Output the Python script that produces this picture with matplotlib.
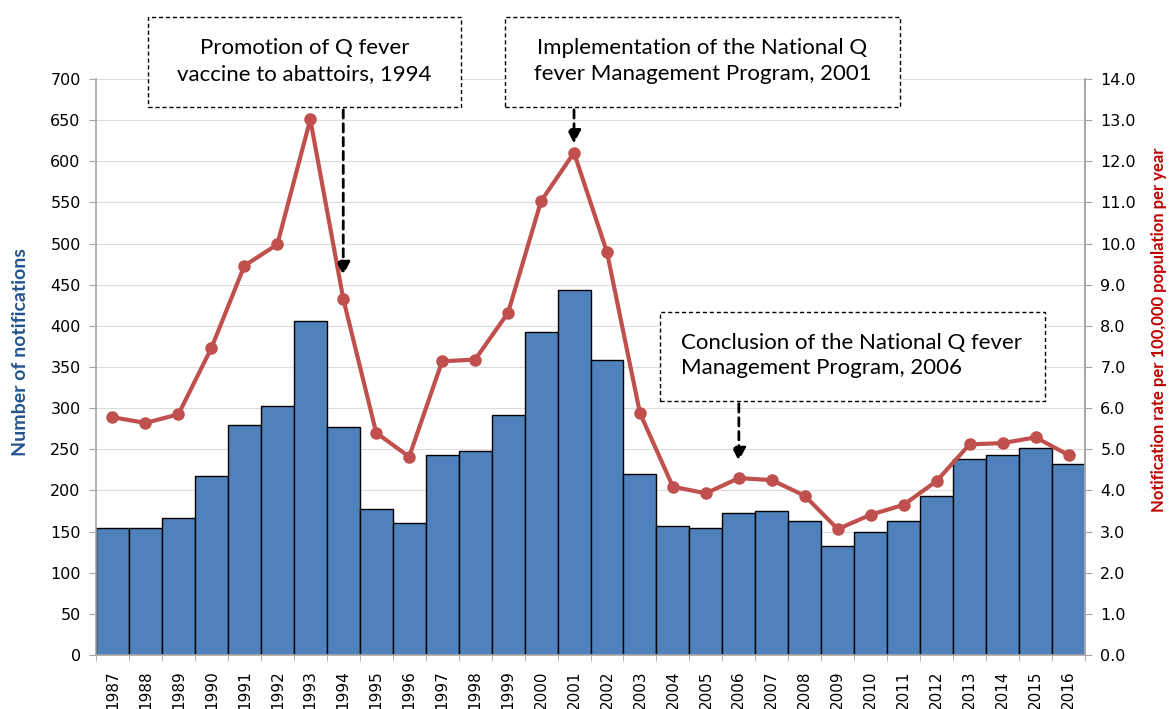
import matplotlib
matplotlib.use("Agg")
from matplotlib import pyplot as plt
from matplotlib.patches import Rectangle
import numpy as np

## Data ##
years = list(range(1987, 2017))
notifications = [154, 154, 166, 217, 280, 303, 406, 277, 177, 161,
                 243, 248, 292, 393, 443, 358, 220, 157, 154, 172,
                 175, 163, 132, 150, 163, 193, 238, 243, 252, 232]
rates = [5.78, 5.64, 5.85, 7.46, 9.46, 9.98, 13.02, 8.66, 5.40, 4.82,
         7.14, 7.18, 8.32, 11.03, 12.21, 9.79, 5.88, 4.09, 3.93, 4.30,
         4.25, 3.87, 3.06, 3.41, 3.65, 4.23, 5.12, 5.15, 5.29, 4.86]

notes = ["Promotion of Q fever\nvaccine to abattoirs, 1994",
         "Implementation of the National Q\nfever Management Program, 2001",
         "Conclusion of the National Q fever\nManagement Program, 2006"]
note_years = [1994, 2001, 2006]

W, H = 1171, 709
BAR_COLOR = "#4F81BD"
LINE_COLOR = "#C0504D"

def fx(px):
    return px / W

def fy(py):
    return 1 - py / H

fig = plt.figure(figsize=(W / 100, H / 100), dpi=100)
ax = fig.add_axes([fx(96), fy(655), fx(1085 - 96), (655 - 79) / H])

x = np.arange(len(years))
ax.bar(x, notifications, width=1.0, color=BAR_COLOR, edgecolor="black",
       linewidth=1.0, zorder=2)
ax.set_xlim(-0.5, len(years) - 0.5)
ax.set_ylim(0, 700)
ax.set_yticks(np.arange(0, 701, 50))
ax.yaxis.grid(True, color="#dcdcdc", linewidth=0.8, zorder=0)
ax.set_axisbelow(True)

ax.set_xticks(x)
ax.set_xticklabels([str(y) for y in years], rotation=90)
ax.set_xticks(np.arange(-0.5, len(years), 1), minor=True)
ax.tick_params(axis="x", which="major", length=0, pad=11, labelsize=11)
ax.tick_params(axis="x", which="minor", length=4.5, color="#a6a6a6")
ax.tick_params(axis="y", length=5, color="#a6a6a6", labelsize=11.5, pad=6)

ax.spines["top"].set_visible(False)
for side in ["left", "bottom", "right"]:
    ax.spines[side].set_color("#a6a6a6")
    ax.spines[side].set_linewidth(1.2)

ax.set_ylabel("Number of notifications", color="#24558F", fontsize=14,
              fontweight="bold", family="Lato")
ax.yaxis.set_label_coords(-0.068, 0.526)

ax2 = ax.twinx()
ax2.plot(x, rates, color=LINE_COLOR, linewidth=3, marker="o", markersize=8,
         zorder=3)
ax2.set_ylim(0, 14)
ax2.set_yticks(np.arange(0, 14.1, 1.0))
ax2.set_yticklabels([f"{v:.1f}" for v in np.arange(0, 14.1, 1.0)])
ax2.tick_params(axis="y", length=5, color="#a6a6a6", labelsize=11.5, pad=6)
for side in ["top", "left", "bottom"]:
    ax2.spines[side].set_visible(False)
ax2.spines["right"].set_color("#a6a6a6")
ax2.spines["right"].set_linewidth(1.2)
ax2.set_ylabel("Notification rate per 100,000 population per year",
               color="#C00000", fontsize=12, fontweight="bold", family="Lato")
ax2.yaxis.set_label_coords(1.067, 0.564)

## Annotation boxes (pixel layout) ##
boxes = [(148, 17, 461, 107), (505, 17, 900, 107), (660, 312, 1045, 401)]
arrow_tips = [458, 618, 232]
for i, (x0, y0, x1, y1) in enumerate(boxes):
    rect = Rectangle((fx(x0), fy(y1)), fx(x1 - x0), (y1 - y0) / H,
                     transform=fig.transFigure, fill=True, facecolor="white",
                     edgecolor="black", linestyle=(0, (3, 2)), linewidth=1.0,
                     zorder=5)
    fig.add_artist(rect)
    if i < 2:
        fig.text(fx((x0 + x1) / 2), fy((y0 + y1) / 2 - 1), notes[i],
                 ha="center", va="center", fontsize=16, family="Lato",
                 linespacing=1.35, zorder=6)
    else:
        fig.text(fx(681), fy((y0 + y1) / 2 - 1), notes[i], ha="left",
                 va="center", fontsize=16, family="Lato", linespacing=1.35,
                 zorder=6)
    xi = years.index(note_years[i])
    ax2.annotate("", xy=(xi, arrow_tips[i] / 50), xycoords="data",
                 xytext=(xi, fy(y1)), textcoords=("data", "figure fraction"),
                 arrowprops=dict(arrowstyle="-|>", color="black", lw=2,
                                 linestyle=(0, (3, 2)), mutation_scale=20),
                 annotation_clip=False, zorder=6)

fig.savefig("out.png", dpi=100)
